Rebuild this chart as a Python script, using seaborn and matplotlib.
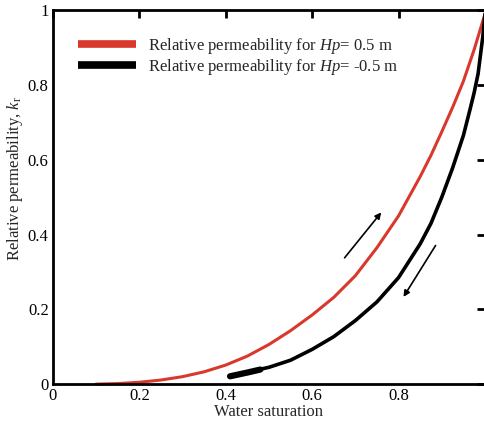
import matplotlib
matplotlib.use("Agg")
import matplotlib.pyplot as plt
import seaborn as sns
import pandas as pd

sns.set_theme(style="white")
plt.rcParams['font.family'] = ['Liberation Serif', 'DejaVu Serif']
plt.rcParams['mathtext.fontset'] = 'custom'
plt.rcParams['mathtext.rm'] = 'Liberation Serif'
plt.rcParams['mathtext.it'] = 'Liberation Serif:italic'

# data
sw_red = [0.10, 0.15, 0.20, 0.25, 0.30, 0.35, 0.40, 0.45, 0.50, 0.55, 0.60, 0.65, 0.70,
          0.75, 0.80, 0.85, 0.875, 0.90, 0.925, 0.95, 0.975, 1.00]
kr_red = [0.000, 0.0015, 0.005, 0.011, 0.020, 0.033, 0.051, 0.075, 0.106, 0.143, 0.185, 0.232, 0.290,
          0.365, 0.450, 0.555, 0.612, 0.675, 0.740, 0.810, 0.895, 0.990]
sw_blk = [0.41, 0.45, 0.50, 0.55, 0.60, 0.65, 0.70, 0.75, 0.80, 0.85, 0.875, 0.90, 0.925,
          0.95, 0.965, 0.975, 0.984, 0.995, 1.00]
kr_blk = [0.022, 0.032, 0.045, 0.064, 0.093, 0.127, 0.170, 0.220, 0.285, 0.375, 0.430, 0.500, 0.578,
          0.665, 0.733, 0.780, 0.830, 0.930, 0.990]
sw_thick = [0.41, 0.43, 0.45, 0.48]
kr_thick = [0.021, 0.026, 0.031, 0.039]
labels = ["Relative permeability for $\\it{Hp}$= 0.5 m",
          "Relative permeability for $\\it{Hp}$= -0.5 m"]
xticks = [0, 0.2, 0.4, 0.6, 0.8, 1.0]
xticklabels = ["0", "0.2", "0.4", "0.6", "0.8", ""]
yticks = [0, 0.2, 0.4, 0.6, 0.8, 1.0]
yticklabels = ["0", "0.2", "0.4", "0.6", "0.8", "1"]

red = "#d9382c"
fig = plt.figure(figsize=(4.85, 4.24), dpi=100)
ax = fig.add_axes([0.109, 0.094, 0.891, 0.882])

df_r = pd.DataFrame({"x": sw_red, "y": kr_red})
df_b = pd.DataFrame({"x": sw_blk, "y": kr_blk})
df_t = pd.DataFrame({"x": sw_thick, "y": kr_thick})
sns.lineplot(data=df_r, x="x", y="y", ax=ax, color=red, lw=2.2, label=labels[0], sort=False)
sns.lineplot(data=df_b, x="x", y="y", ax=ax, color="black", lw=2.6, label=labels[1], sort=False)
sns.lineplot(data=df_t, x="x", y="y", ax=ax, color="black", lw=4.5, sort=False)
for ln in ax.get_lines():
    ln.set_solid_joinstyle("round")
    ln.set_clip_on(False)

ax.annotate("", xy=(0.764, 0.465), xytext=(0.671, 0.332),
            arrowprops=dict(arrowstyle="-|>", color="black", lw=1.2, mutation_scale=9))
ax.annotate("", xy=(0.808, 0.227), xytext=(0.889, 0.377),
            arrowprops=dict(arrowstyle="-|>", color="black", lw=1.2, mutation_scale=9))

ax.set_xlim(0, 1)
ax.set_ylim(0, 1)
ax.set_xticks(xticks)
ax.set_xticklabels(xticklabels)
ax.set_yticks(yticks)
ax.set_yticklabels(yticklabels)
ax.tick_params(direction="in", length=6, width=2, top=True, right=True,
               labelsize=12, colors="black", pad=3)
for s in ax.spines.values():
    s.set_linewidth(2)
    s.set_color("black")
ax.set_xlabel("Water saturation", fontsize=12, labelpad=0)
ax.set_ylabel("Relative permeability, $k_\\mathrm{r}$", fontsize=12)
ax.yaxis.set_label_coords(-0.064, 0.55)

leg = ax.legend(loc="upper left", bbox_to_anchor=(0.042, 0.95), frameon=False,
                fontsize=12, handlelength=3.5, handletextpad=0.7, labelspacing=0.08,
                borderaxespad=0)
for h in leg.get_lines():
    h.set_linewidth(5.5)
    h.set_solid_capstyle("butt")

fig.savefig("out.png", dpi=100)
